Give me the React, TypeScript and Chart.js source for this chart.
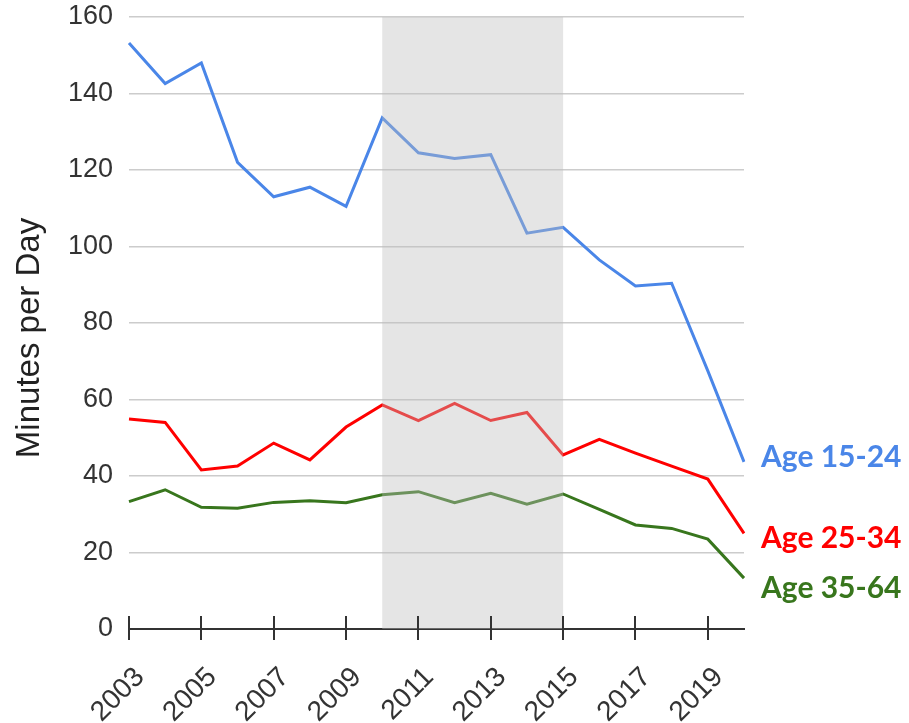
import React, { useEffect, useRef } from "react";
import { Chart, registerables } from "chart.js";

Chart.register(...registerables);

const years = ["2003","2004","2005","2006","2007","2008","2009","2010","2011","2012","2013","2014","2015","2016","2017","2018","2019","2020"];
const age1524 = [153.2,142.6,148.0,122.0,113.0,115.5,110.5,133.6,124.5,123.0,124.0,103.5,105.0,96.5,89.7,90.4,67.5,43.7];
const age2534 = [54.9,54.0,41.6,42.6,48.6,44.2,52.8,58.6,54.5,59.0,54.5,56.6,45.5,49.6,46.0,42.6,39.2,25.0];
const age3564 = [33.3,36.4,31.8,31.6,33.1,33.5,33.0,35.1,35.9,33.0,35.5,32.6,35.3,31.3,27.2,26.3,23.5,13.3];
const seriesNames = ["Age 15-24", "Age 25-34", "Age 35-64"];
const yTitle = "Minutes per Day";
const shadeStart = "2010";
const shadeEnd = "2015";
const yTicks = [0, 20, 40, 60, 80, 100, 120, 140, 160];

const COLORS = ["#4a86e8", "#ff0000", "#38761d"];
const LABEL_DY = [-5, 5, 10];

export default function App() {
  const ref = useRef<HTMLCanvasElement | null>(null);

  useEffect(() => {
    if (!ref.current) return;
    const overlay = {
      id: "overlay",
      afterDatasetsDraw(chart: any) {
        const { ctx, chartArea, scales } = chart;
        const x = scales.x;
        const x0 = x.getPixelForValue(years.indexOf(shadeStart));
        const x1 = x.getPixelForValue(years.indexOf(shadeEnd));
        ctx.save();
        ctx.fillStyle = "rgba(190,190,190,0.4)";
        ctx.fillRect(x0, chartArea.top, x1 - x0, chartArea.bottom - chartArea.top);
        ctx.restore();
      },
      afterDraw(chart: any) {
        const { ctx, chartArea, scales } = chart;
        const x = scales.x;
        const y = scales.y;
        ctx.save();
        ctx.strokeStyle = "#333";
        ctx.lineWidth = 2;
        years.forEach((yr, i) => {
          if (parseInt(yr) % 2 === 1) {
            const px = Math.round(x.getPixelForValue(i));
            ctx.beginPath();
            ctx.moveTo(px, chartArea.bottom - 13);
            ctx.lineTo(px, chartArea.bottom + 11);
            ctx.stroke();
          }
        });
        const sets = [age1524, age2534, age3564];
        ctx.font = "bold 30px Lato";
        ctx.textAlign = "left";
        ctx.textBaseline = "middle";
        sets.forEach((s, i) => {
          const py = y.getPixelForValue(s[s.length - 1]) + LABEL_DY[i];
          ctx.fillStyle = COLORS[i];
          ctx.fillText(seriesNames[i], chartArea.right + 17, py);
        });
        // y-axis title
        ctx.translate(30, (chartArea.top + chartArea.bottom) / 2 + 15);
        ctx.rotate(-Math.PI / 2);
        ctx.font = "33px 'Liberation Sans'";
        ctx.fillStyle = "#222";
        ctx.textAlign = "center";
        ctx.textBaseline = "middle";
        ctx.fillText(yTitle, 0, 0);
        ctx.restore();
      },
    };

    const chart = new Chart(ref.current, {
      type: "line",
      data: {
        labels: years,
        datasets: [age1524, age2534, age3564].map((d, i) => ({
          label: seriesNames[i],
          data: d,
          borderColor: COLORS[i],
          backgroundColor: COLORS[i],
          borderWidth: 3,
          pointRadius: 0,
          tension: 0,
          fill: false,
        })),
      },
      options: {
        animation: false,
        responsive: true,
        maintainAspectRatio: false,
        layout: { padding: { left: 0, right: 165, top: 17, bottom: 0 } },
        plugins: { legend: { display: false }, tooltip: { enabled: false } },
        scales: {
          x: {
            grid: { display: false, drawTicks: false },
            border: { display: true, color: "#333", width: 2 },
            ticks: {
              autoSkip: false,
              minRotation: 45,
              maxRotation: 45,
              padding: 32,
              labelOffset: 11,
              color: "#333",
              font: { family: "Liberation Sans", size: 28 },
              callback: (_v: any, i: number) => (parseInt(years[i]) % 2 === 1 ? years[i] : ""),
            },
            afterFit: (s: any) => {
              s.height = 94;
              s.paddingLeft = 0;
              s.paddingRight = 0;
              s.paddingTop = 0;
              s.paddingBottom = 0;
            },
          },
          y: {
            min: 0,
            max: 160,
            afterBuildTicks: (s: any) => { s.ticks = yTicks.map((v) => ({ value: v })); },
            grid: { color: "#cccccc", lineWidth: 1.5, drawTicks: false },
            border: { display: false },
            ticks: {
              padding: 16,
              color: "#333",
              font: { family: "Liberation Sans", size: 27 },
            },
            afterFit: (s: any) => {
              s.width = 129;
              s.paddingTop = 0;
              s.paddingBottom = 0;
              s.paddingLeft = 0;
              s.paddingRight = 0;
            },
          },
        },
      },
      plugins: [overlay],
    });
    return () => chart.destroy();
  }, []);

  return (
    <div style={{ position: "absolute", left: 0, top: 0, width: 909, height: 723, background: "#fff" }}>
      <canvas ref={ref} />
    </div>
  );
}
